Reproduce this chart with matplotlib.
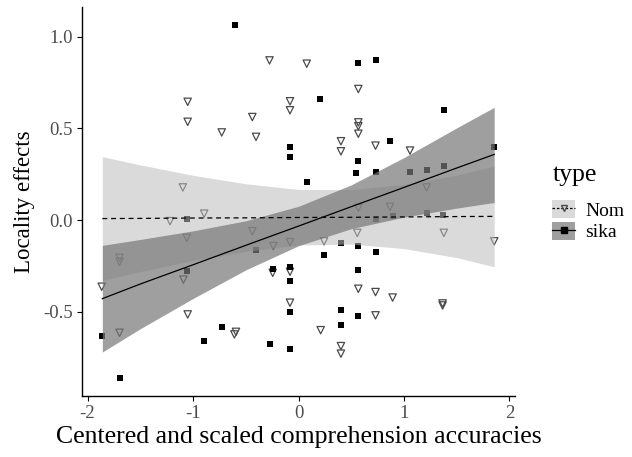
import matplotlib
matplotlib.use('Agg')
from matplotlib import pyplot as plt
from matplotlib.patches import Patch
from matplotlib.lines import Line2D
from matplotlib.legend_handler import HandlerTuple

plt.rcParams['font.family'] = ['Liberation Serif', 'DejaVu Serif']
plt.rcParams['axes.unicode_minus'] = False

# Nom points (open triangles)
nom_x = [-0.275, 0.078, -1.051, -1.051, -0.728, -0.438, -0.403, -0.081, -0.081, -1.097,
         0.567, 0.567, 0.567, 0.567, 0.402, 0.402, 0.730, 1.057, 1.214, 0.567,
         0.867, -0.895, -1.218, -1.060, -0.438, -0.239, -0.081, -1.091, -1.697, -1.697,
         -1.866, -0.245, -0.081, -1.051, -0.081, -1.697, -0.608, -0.593, 0.210, 0.242,
         0.557, 0.567, 0.730, 0.892, 1.366, 1.366, 0.730, 0.402, 0.402, 1.378, 1.855]
nom_y = [0.871, 0.853, 0.645, 0.536, 0.478, 0.562, 0.454, 0.648, 0.599, 0.178,
         0.715, 0.533, 0.512, 0.471, 0.430, 0.375, 0.406, 0.379, 0.178, 0.067,
         0.072, 0.035, -0.006, -0.097, -0.061, -0.142, -0.121, -0.325, -0.206, -0.228,
         -0.364, -0.288, -0.282, -0.515, -0.451, -0.615, -0.624, -0.610, -0.601, -0.116,
         -0.070, -0.375, -0.393, -0.423, -0.466, -0.455, -0.520, -0.688, -0.729, -0.070, -0.116]

# sika points (filled squares)
sika_x = [-0.603, -0.081, -0.081, 0.084, 0.203, 0.567, 0.730, 1.378, 0.867, 1.855,
          0.567, 0.544, 0.730, 1.057, 1.214, 1.378, -1.060, -0.403, -1.060, -0.245,
          -0.081, -0.081, -0.081, -1.866, -0.728, -0.895, -0.275, -0.081, -1.697, 0.242,
          0.402, 0.567, 0.730, 0.567, 0.402, 0.567, 0.402, 0.730, 0.892, 1.214, 1.366]
sika_y = [1.065, 0.396, 0.342, 0.206, 0.662, 0.857, 0.875, 0.602, 0.433, 0.398,
          0.320, 0.255, 0.262, 0.264, 0.275, 0.293, 0.008, -0.161, -0.279, -0.265,
          -0.258, -0.330, -0.500, -0.634, -0.582, -0.660, -0.675, -0.701, -0.864, -0.192,
          -0.125, -0.142, -0.174, -0.270, -0.491, -0.524, -0.575, 0.003, 0.020, 0.039, 0.025]

# fitted lines and confidence ribbons
band_x = [-1.86, -1.5, -1.0, -0.5, 0.0, 0.5, 1.0, 1.5, 1.855]
nom_fit = [0.008, 0.009, 0.011, 0.012, 0.014, 0.015, 0.017, 0.019, 0.020]
nom_upper = [0.346, 0.301, 0.244, 0.198, 0.167, 0.166, 0.195, 0.245, 0.295]
nom_lower = [-0.329, -0.281, -0.221, -0.171, -0.136, -0.131, -0.156, -0.205, -0.255]
sika_fit = [-0.429, -0.349, -0.244, -0.138, -0.033, 0.073, 0.178, 0.284, 0.358]
sika_upper = [-0.138, -0.106, -0.059, -0.004, 0.075, 0.192, 0.341, 0.503, 0.615]
sika_lower = [-0.720, -0.593, -0.428, -0.272, -0.140, -0.047, 0.016, 0.065, 0.096]

nom_fill = '#bdbdbd'
sika_fill = '#777777'

fig = plt.figure(figsize=(6.32, 4.57), dpi=100)
ax = fig.add_axes([0.1297, 0.1335, 0.6848, 0.851])

ax.scatter(nom_x, nom_y, marker='v', s=28, facecolors='none', edgecolors='#4a4a4a',
           linewidths=0.9, zorder=2)
ax.scatter(sika_x, sika_y, marker='s', s=20, color='black', linewidths=0, zorder=2)

ax.fill_between(band_x, nom_lower, nom_upper, color=nom_fill, alpha=0.55, lw=0, zorder=3)
ax.fill_between(band_x, sika_lower, sika_upper, color=sika_fill, alpha=0.7, lw=0, zorder=3)
ax.plot(band_x, nom_fit, color='black', lw=0.9, ls=(0, (4, 3)), zorder=4)
ax.plot(band_x, sika_fit, color='black', lw=0.9, zorder=4)

ax.set_xlim(-2.053, 2.05)
ax.set_ylim(-0.96, 1.162)
ax.set_xticks([-2, -1, 0, 1, 2])
ax.set_yticks([-0.5, 0.0, 0.5, 1.0])
ax.set_xticklabels(['-2', '-1', '0', '1', '2'])
ax.set_yticklabels(['-0.5', '0.0', '0.5', '1.0'])
ax.tick_params(labelsize=13.5, labelcolor='#4d4d4d', color='black', length=3.3,
               width=0.8, pad=3)
for s in ['top', 'right']:
    ax.spines[s].set_visible(False)
for s in ['left', 'bottom']:
    ax.spines[s].set_linewidth(1.0)

ax.set_xlabel('Centered and scaled comprehension accuracies', fontsize=18.5, labelpad=3)
ax.set_ylabel('Locality effects', fontsize=16.5, labelpad=6)

# legend: title placed separately so the keys sit lower, as in ggplot
fig.text(0.874, 0.617, 'type', fontsize=18.5, va='center', ha='left')
nom_key = (Patch(facecolor=nom_fill, alpha=0.55, lw=0),
           Line2D([], [], color='black', lw=0.9, ls=(0, (2, 1.5))),
           Line2D([], [], marker='v', ls='none', ms=5, mfc='none', mec='#4a4a4a'))
sika_key = (Patch(facecolor=sika_fill, alpha=0.7, lw=0),
            Line2D([], [], color='black', lw=0.9),
            Line2D([], [], marker='s', ls='none', ms=4, color='black'))
fig.legend([nom_key, sika_key], ['Nom', 'sika'],
           handler_map={tuple: HandlerTuple(ndivide=1, pad=0)},
           loc='upper left', bbox_to_anchor=(0.874, 0.562), frameon=False,
           fontsize=14, handlelength=1.15, handleheight=1.05,
           handletextpad=0.55, labelspacing=0.1, borderpad=0, borderaxespad=0)

fig.savefig('out.png', dpi=100)
